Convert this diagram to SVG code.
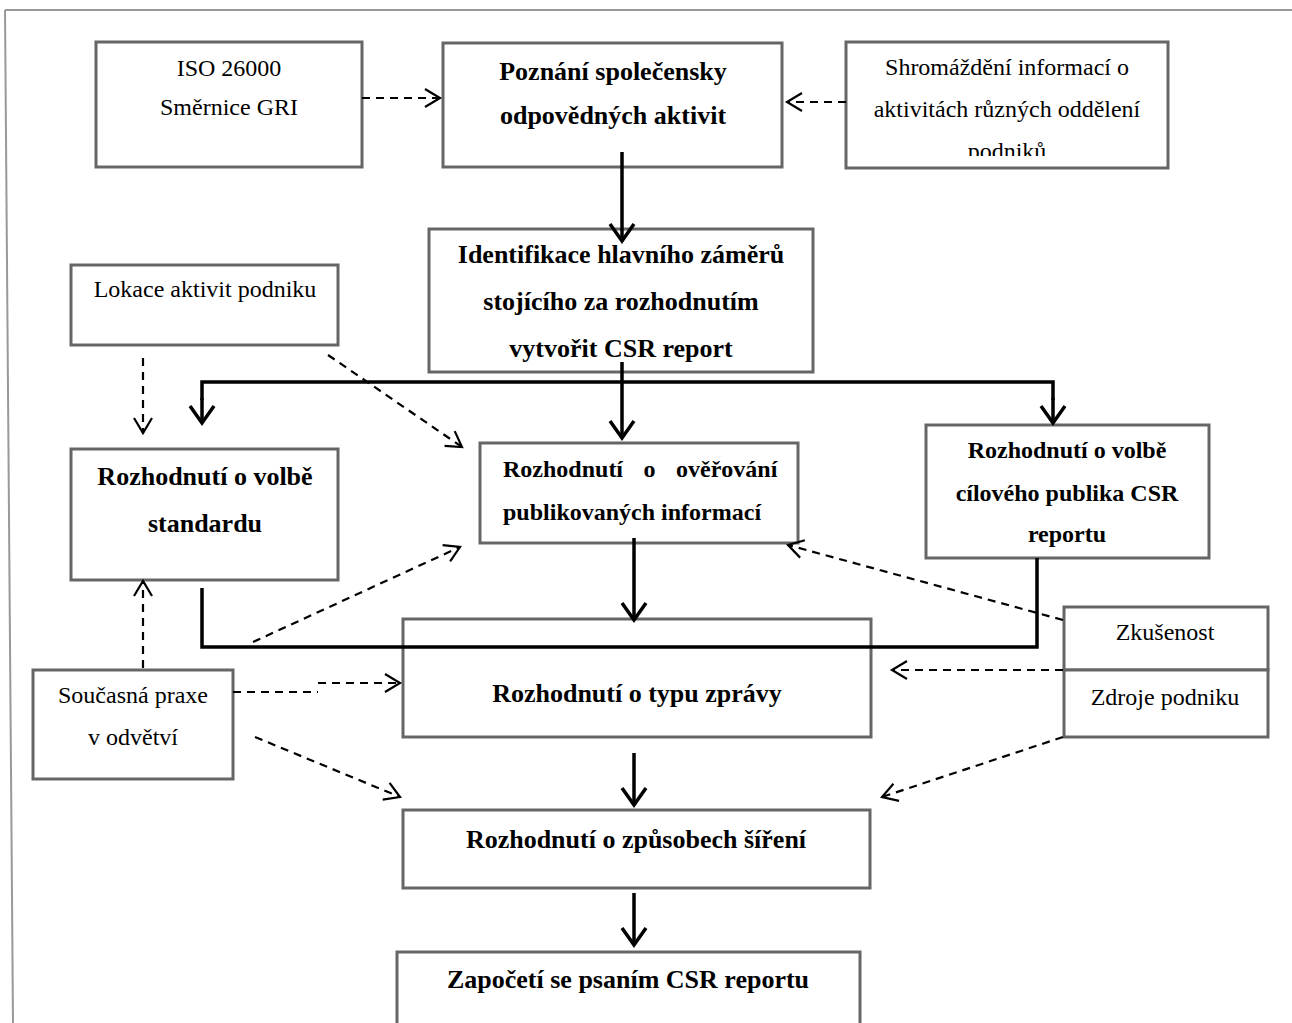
<svg xmlns="http://www.w3.org/2000/svg" width="1292" height="1023" viewBox="0 0 1292 1023">
<style>
  .box { fill: #ffffff; stroke: #666666; stroke-width: 3; }
  .t { font-family: "Liberation Serif", "Times New Roman", serif; font-size: 24px; fill: #000; text-anchor: middle; }
  .b { font-family: "Liberation Serif", "Times New Roman", serif; font-size: 26px; font-weight: bold; fill: #000; text-anchor: middle; }
  .b24 { font-family: "Liberation Serif", "Times New Roman", serif; font-size: 24px; font-weight: bold; fill: #000; }
  .solid { fill: none; stroke: #000; stroke-width: 3.5; marker-end: url(#solidArrow); }
  .solidnm { fill: none; stroke: #000; stroke-width: 3.5; }
  .dash { fill: none; stroke: #000; stroke-width: 2.2; stroke-dasharray: 8 6; marker-end: url(#dashArrow); }
  .dashnm { fill: none; stroke: #000; stroke-width: 2.2; stroke-dasharray: 8 6; }
</style>
<defs>
  <marker id="solidArrow" markerUnits="userSpaceOnUse" viewBox="-20 -14 24 28" markerWidth="24" markerHeight="28" refX="0" refY="0" orient="auto" overflow="visible">
    <path d="M -17 -12 L 0 0 L -17 12" fill="none" stroke="#000" stroke-width="3.5" stroke-dasharray="none"/>
  </marker>
  <marker id="dashArrow" markerUnits="userSpaceOnUse" viewBox="-18 -12 20 24" markerWidth="20" markerHeight="24" refX="0" refY="0" orient="auto" overflow="visible">
    <path d="M -15 -9 L 0 0 L -15 9" fill="none" stroke="#000" stroke-width="2.2" stroke-dasharray="none"/>
  </marker>
  <clipPath id="clipShrom">
    <rect x="846" y="40" width="322" height="116"/>
  </clipPath>
</defs>

<!-- outer frame -->
<g id="frame">
  <line x1="5" y1="10" x2="1292" y2="10" stroke="#999999" stroke-width="2"/>
  <line x1="5" y1="10" x2="13" y2="1023" stroke="#999999" stroke-width="2"/>
</g>

<g id="iso">
  <rect class="box" x="96" y="42" width="266" height="125"/>
  <text class="t" x="229" y="76">ISO 26000</text>
  <text class="t" x="229" y="115">Směrnice GRI</text>
</g>

<g id="poznani">
  <rect class="box" x="443" y="43" width="339" height="124"/>
  <text class="b" x="613" y="80">Poznání společensky</text>
  <text class="b" x="613" y="124">odpovědných aktivit</text>
</g>

<g id="shromazdeni">
  <rect class="box" x="846" y="42" width="322" height="126"/>
  <g clip-path="url(#clipShrom)">
    <text class="t" x="1007" y="75">Shromáždění informací o</text>
    <text class="t" x="1007" y="117">aktivitách různých oddělení</text>
    <text class="t" x="1007" y="159">podniků</text>
  </g>
</g>

<g id="identifikace">
  <rect class="box" x="429" y="229" width="384" height="143"/>
  <text class="b" x="621" y="263">Identifikace hlavního záměrů</text>
  <text class="b" x="621" y="310">stojícího za rozhodnutím</text>
  <text class="b" x="621" y="357">vytvořit CSR report</text>
</g>

<g id="lokace">
  <rect class="box" x="71" y="265" width="267" height="80"/>
  <text class="t" x="205" y="297">Lokace aktivit podniku</text>
</g>

<g id="standard">
  <rect class="box" x="71" y="449" width="267" height="131"/>
  <text class="b" x="205" y="485">Rozhodnutí o volbě</text>
  <text class="b" x="205" y="532">standardu</text>
</g>

<g id="overovani">
  <rect class="box" x="480" y="443" width="318" height="100"/>
  <text class="b24" x="503" y="477" word-spacing="14.5">Rozhodnutí o ověřování</text>
  <text class="b24" x="503" y="520">publikovaných informací</text>
</g>

<g id="publikum">
  <rect class="box" x="926" y="425" width="283" height="133"/>
  <text class="b24" x="1067" y="458" text-anchor="middle">Rozhodnutí o volbě</text>
  <text class="b24" x="1067" y="501" text-anchor="middle">cílového publika CSR</text>
  <text class="b24" x="1067" y="542" text-anchor="middle">reportu</text>
</g>

<g id="typ">
  <rect class="box" x="403" y="619" width="468" height="118"/>
  <text class="b" x="637" y="702">Rozhodnutí o typu zprávy</text>
</g>

<g id="zkusenost">
  <rect class="box" x="1064" y="607" width="204" height="63"/>
  <text class="t" x="1165" y="640">Zkušenost</text>
</g>

<g id="zdroje">
  <rect class="box" x="1064" y="670" width="204" height="67"/>
  <text class="t" x="1165" y="705">Zdroje podniku</text>
</g>

<g id="soucasna">
  <rect class="box" x="33" y="670" width="200" height="109"/>
  <text class="t" x="133" y="703">Současná praxe</text>
  <text class="t" x="133" y="745">v odvětví</text>
</g>

<g id="sireni">
  <rect class="box" x="403" y="810" width="467" height="78"/>
  <text class="b" x="636" y="848">Rozhodnutí o způsobech šíření</text>
</g>

<g id="zapoceti">
  <rect class="box" x="397" y="952" width="463" height="90"/>
  <text class="b" x="628" y="988">Započetí se psaním CSR reportu</text>
</g>

<!-- connectors (drawn on top, as in the reference) -->
<g id="connectors">
  <line class="dash" x1="362" y1="98" x2="440" y2="98"/>
  <line class="dash" x1="846" y1="102" x2="787" y2="102"/>
  <line class="solid" x1="622" y1="152" x2="622" y2="241"/>
  <polyline class="solidnm" points="202,400 202,382 1053,382 1053,400"/>
  <line class="solid" x1="202" y1="398" x2="202" y2="423"/>
  <line class="solid" x1="1053" y1="398" x2="1053" y2="423"/>
  <line class="solid" x1="622" y1="362" x2="622" y2="438"/>
  <line class="dash" x1="143" y1="358" x2="143" y2="433"/>
  <line class="dash" x1="328" y1="355" x2="462" y2="447"/>
  <polyline class="solidnm" points="202,588 202,647 1037,647 1037,558"/>
  <line class="solid" x1="634" y1="538" x2="634" y2="620"/>
  <line class="dash" x1="143" y1="668" x2="143" y2="581"/>
  <line class="dash" x1="253" y1="642" x2="460" y2="547"/>
  <line class="dashnm" x1="233" y1="692" x2="318" y2="692"/>
  <line class="dash" x1="318" y1="683" x2="400" y2="683"/>
  <line class="dash" x1="255" y1="737" x2="400" y2="797"/>
  <line class="dash" x1="1063" y1="620" x2="788" y2="545"/>
  <line class="dash" x1="1063" y1="670" x2="892" y2="670"/>
  <line class="dash" x1="1063" y1="737" x2="882" y2="797"/>
  <line class="solid" x1="634" y1="753" x2="634" y2="805"/>
  <line class="solid" x1="634" y1="893" x2="634" y2="945"/>
</g>
</svg>
